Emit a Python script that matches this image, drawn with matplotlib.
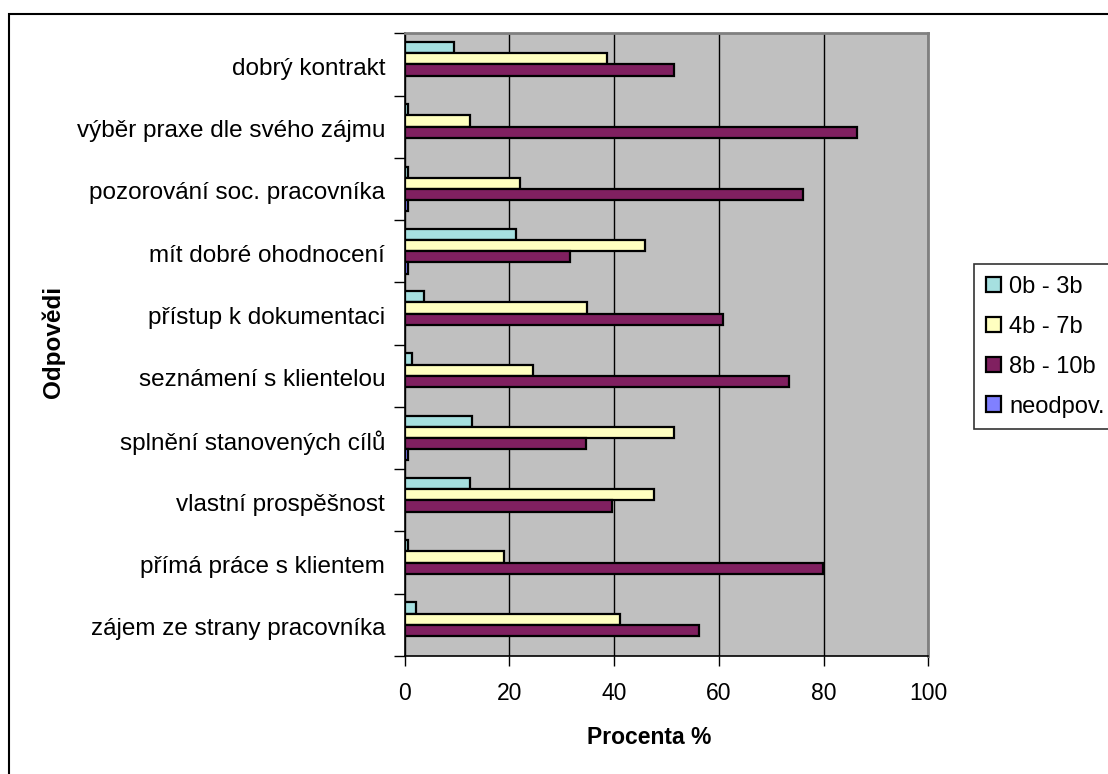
import matplotlib
matplotlib.use("Agg")
import matplotlib.pyplot as plt
from matplotlib.patches import Rectangle, Patch
import numpy as np

plt.rcParams['font.family'] = ['Liberation Sans', 'DejaVu Sans']

# Categories, top to bottom as shown
categories = [
    "dobrý kontrakt",
    "výběr praxe dle svého zájmu",
    "pozorování soc. pracovníka",
    "mít dobré ohodnocení",
    "přístup k dokumentaci",
    "seznámení s klientelou",
    "splnění stanovených cílů",
    "vlastní prospěšnost",
    "přímá práce s klientem",
    "zájem ze strany pracovníka",
]
series_names = ["0b - 3b", "4b - 7b", "8b - 10b", "neodpov."]
s_0_3 = [9.5, 0.7, 0.7, 21.3, 3.7, 1.5, 12.9, 12.6, 0.7, 2.2]
s_4_7 = [38.7, 12.6, 22.0, 46.0, 34.9, 24.6, 51.4, 47.6, 19.0, 41.1]
s_8_10 = [51.4, 86.4, 76.1, 31.6, 60.9, 73.5, 34.6, 39.6, 79.9, 56.3]
s_neodp = [0, 0, 0.7, 0.7, 0, 0, 0.7, 0, 0, 0]
x_ticks = [0, 20, 40, 60, 80, 100]

colors = ["#A6E0E0", "#FFFFC0", "#802060", "#8080FF"]

W, H = 1108, 774
fig = plt.figure(figsize=(W / 100, H / 100), dpi=100)

ax_left, ax_right, ax_top, ax_bottom = 404.5, 928.3, 33.3, 656.0
ax = fig.add_axes([ax_left / W, 1 - ax_bottom / H, (ax_right - ax_left) / W, (ax_bottom - ax_top) / H])
ax.set_facecolor("#C0C0C0")

n = len(categories)
ypos = np.arange(n)[::-1]  # first category at top
h = 0.18
offsets = [1.5 * h, 0.5 * h, -0.5 * h, -1.5 * h]
all_series = [s_0_3, s_4_7, s_8_10, s_neodp]
for vals, off, col in zip(all_series, offsets, colors):
    vals = np.asarray(vals, dtype=float)
    m = vals > 0
    ax.barh(ypos[m] + off, vals[m], height=h, color=col, edgecolor="black",
            linewidth=1.6, zorder=3)

ax.set_xlim(0, 100)
ax.set_ylim(-0.5, n - 0.5)
ax.set_xticks(x_ticks)
ax.set_xticklabels([str(t) for t in x_ticks], fontsize=16.5)
ax.xaxis.grid(True, color="black", linewidth=1.0, zorder=1)
ax.set_axisbelow(True)

ax.set_yticks(ypos - 0.03)
ax.set_yticklabels(categories, fontsize=17.5)
ax.tick_params(axis="y", length=0, pad=14)
ax.set_yticks(np.arange(-0.5, n, 1.0), minor=True)
ax.tick_params(axis="y", which="minor", length=8, width=1, color="black", direction="out")
ax.tick_params(axis="x", length=7, width=1, direction="out", pad=12)

for side in ["top", "right"]:
    ax.spines[side].set_color("#808080")
    ax.spines[side].set_linewidth(2)
for side in ["left", "bottom"]:
    ax.spines[side].set_color("black")
    ax.spines[side].set_linewidth(1.2)

fig.text(648.7 / W, 1 - 738 / H, "Procenta %", fontsize=16.5, fontweight="bold",
         ha="center", va="center")
fig.text(53 / W, 1 - 342 / H, "Odpovědi", fontsize=17.5, fontweight="bold",
         ha="center", va="center", rotation=90)

handles = [Patch(facecolor=c, edgecolor="black", linewidth=1.6) for c in colors]
leg = fig.legend(handles, series_names, loc="upper left",
                 bbox_to_anchor=(974 / W, 1 - 264 / H), borderaxespad=0,
                 fontsize=17, frameon=True, fancybox=False, shadow=False,
                 handlelength=0.65, handleheight=0.65, handletextpad=0.35,
                 labelspacing=0.76, borderpad=0.5)
leg.get_frame().set_edgecolor("black")
leg.get_frame().set_linewidth(1.2)

# outer chart frame (cut off at right and bottom)
frame = Rectangle((8.7 / W, -0.05), 1.2, (1 - 14.3 / H) + 0.05, transform=fig.transFigure,
                  fill=False, edgecolor="black", linewidth=1.5, clip_on=False)
fig.patches.append(frame)

fig.savefig("out.png", dpi=100)
